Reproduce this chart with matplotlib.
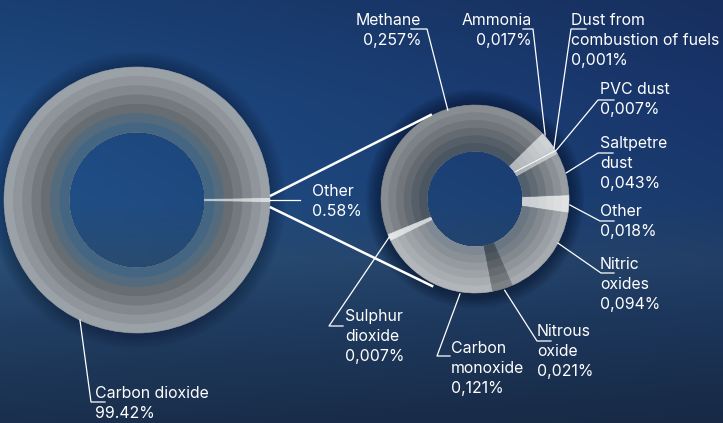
import numpy as np
import matplotlib
matplotlib.use('Agg')
import matplotlib.pyplot as plt
from matplotlib.colors import to_rgb
from matplotlib.patches import Wedge

W, H = 723, 423

# left donut: all emissions (Other first so it sits at 3 o'clock)
main_labels = ['Other', 'Carbon dioxide']
main_values = [0.58, 99.42]
main_text = ['Other\n0.58%', 'Carbon dioxide\n99.42%']
main_tone = [0.62, 0.0]

# right donut: breakdown of "Other", counter-clockwise from 3 o'clock
other_labels = ['Other', 'Saltpetre dust', 'PVC dust', 'Dust from combustion of fuels',
                'Ammonia', 'Methane', 'Sulphur dioxide', 'Carbon monoxide',
                'Nitrous oxide', 'Nitric oxides']
other_values = [0.018, 0.043, 0.007, 0.001, 0.017, 0.257, 0.007, 0.121, 0.021, 0.094]
other_text = ['Other\n0,018%', 'Saltpetre\ndust\n0,043%', 'PVC dust\n0,007%',
              'Dust from\ncombustion of fuels\n0,001%', 'Ammonia\n0,017%',
              'Methane\n0,257%', 'Sulphur\ndioxide\n0,007%',
              'Carbon\nmonoxide\n0,121%', 'Nitrous\noxide\n0,021%',
              'Nitric\noxides\n0,094%']
other_tone = [0.7, 0.0, 0.5, 0.55, 0.55, -0.1, 0.72, 0.26, -0.18, 0.14]

LEFT_RAMP = ['#9aa2a8', '#8f959a', '#82888d', '#74797e', '#666d73', '#546b7d', '#446683']
RIGHT_RAMP = ['#979da2', '#8a9096', '#7c8389', '#6e767d', '#606a73', '#52606d']

L_C, L_R, L_HOLE = (137, H - 200), 133, 68
R_C, R_R, R_HOLE = (475, H - 199), 94, 48

LINE_PX = 20.5  # distance between text baselines

# label layout: (anchor angle, anchor radius, elbow px, end px, first baseline px, ha)
main_layout = {
    'Other':          (0.0,   133, (300, 200), None,       (312, 195), 'left'),
    'Carbon dioxide': (244.6, 133, (91, 402),  (105, 402), (95, 397),  'left'),
}
other_layout = {
    'Methane':         (107.0, 93, (427, 29),  (411, 29),  (421, 24),  'right'),
    'Ammonia':         (42.4,  95, (533, 29),  (523, 29),  (532, 24),  'right'),
    'Dust from combustion of fuels':
                       (32.8,  94, (571, 29),  (586, 29),  (571, 24),  'left'),
    'PVC dust':        (31.0,  95, (598, 100), (614, 100), (600, 93),  'left'),
    'Saltpetre dust':  (16.0,  95, (598, 153), (613, 153), (600, 147), 'left'),
    'Other':           (-3.6,  95, (600, 221), (614, 221), (600, 215), 'left'),
    'Nitric oxides':   (-28.0, 94, (601, 273), (614, 273), (600, 268), 'left'),
    'Nitrous oxide':   (-72.0, 96, (537, 341), (551, 341), (537, 335), 'left'),
    'Carbon monoxide': (-99.0, 96, (437, 356), (450, 356), (451, 352), 'left'),
    'Sulphur dioxide': (204.0, 94, (329, 326), (343, 326), (345, 320), 'left'),
}


def tinted(base, tones):
    out = []
    for t in tones:
        c = np.array(to_rgb(base))
        c = c + (1 - c) * t if t >= 0 else c * (1 + t)
        out.append(c)
    return out


def polar(center, r, ang):
    a = np.deg2rad(ang)
    return center[0] + r * np.cos(a), center[1] + r * np.sin(a)


def draw_donut(ax, values, tones, center, radius, hole, ramp, start):
    step = (radius - hole) / len(ramp)
    for i, base in enumerate(ramp):
        r = radius - i * step
        wedges, _ = ax.pie(values, radius=r, center=center, startangle=start,
                           colors=tinted(base, tones), counterclock=True,
                           wedgeprops=dict(width=r - hole, linewidth=0.4))
        for w in wedges:
            w.set_edgecolor(w.get_facecolor())
            w.set_zorder(3)


def shadow(ax, center, radius, alpha):
    # soft dark halo just outside the ring
    for k in range(10):
        ax.add_patch(Wedge(center, radius + 1 + k * 1.6, 0, 360, width=2 + k * 1.6,
                           color='#050f26', alpha=alpha, lw=0, zorder=1))


def background():
    stops_y = [0, 100, 200, 260, 320, 423]
    left = ['#1a3f72', '#1e4b82', '#205088', '#2a4e74', '#213f63', '#1a2f4d']
    right = ['#172f5e', '#18346a', '#1a3a6c', '#223f66', '#1c355a', '#172944']
    y = np.arange(H)

    def prof(stops):
        cols = np.array([to_rgb(c) for c in stops])
        return np.stack([np.interp(y, stops_y, cols[:, k]) for k in range(3)], axis=1)

    pl, pr = prof(left), prof(right)
    fx = (np.arange(W) / (W - 1))[None, :, None]
    return np.clip(pl[:, None, :] * (1 - fx) + pr[:, None, :] * fx, 0, 1)


fig = plt.figure(figsize=(W / 100, H / 100), dpi=100)
ax = fig.add_axes([0, 0, 1, 1])
ax.imshow(background(), extent=(0, W, 0, H), origin='upper', zorder=0, aspect='auto')

shadow(ax, L_C, L_R, 0.04)
shadow(ax, R_C, R_R, 0.07)

l_start = -main_values[0] / sum(main_values) * 360 / 2
draw_donut(ax, main_values, main_tone, L_C, L_R, L_HOLE, LEFT_RAMP, l_start)
draw_donut(ax, other_values, other_tone, R_C, R_R, R_HOLE, RIGHT_RAMP, -8.5)

# zoom lines from the left "Other" wedge to the right donut
for a0, a1, r1 in [(1.7, 117.0, 95), (-3.0, 244.5, 97)]:
    p0 = polar(L_C, L_R, a0)
    p1 = polar(R_C, r1, a1)
    ax.plot([p0[0], p1[0]], [p0[1], p1[1]], color='white', lw=1.8,
            solid_capstyle='butt', zorder=4)

text_kw = dict(color='white', fontsize=11.4, family=['Inter', 'DejaVu Sans'],
               va='baseline', linespacing=1.4, zorder=6)


def leaders(layout, labels, texts, center):
    for lab, txt in zip(labels, texts):
        ang, r, elbow, end, tpos, ha = layout[lab]
        p = polar(center, r, ang)
        xs, ys = [p[0], elbow[0]], [p[1], H - elbow[1]]
        if end is not None:
            xs.append(end[0]); ys.append(H - end[1])
        ax.plot(xs, ys, color='white', lw=0.9, zorder=5)
        # multi-line text is anchored on the baseline of its last line
        last = tpos[1] + txt.count('\n') * LINE_PX
        ax.text(tpos[0], H - last, txt, ha=ha, multialignment=ha, **text_kw)


leaders(main_layout, main_labels, main_text, L_C)
leaders(other_layout, other_labels, other_text, R_C)

# PVC dust leader continues through its thin wedge
p_in, p_out = polar(R_C, R_HOLE + 1, 34.0), polar(R_C, R_R, 31.0)
ax.plot([p_in[0], p_out[0]], [p_in[1], p_out[1]], color='white', lw=0.7, zorder=5)

ax.set_xlim(0, W)
ax.set_ylim(0, H)
ax.set_aspect('auto')
ax.axis('off')
fig.savefig('out.png', dpi=100)
